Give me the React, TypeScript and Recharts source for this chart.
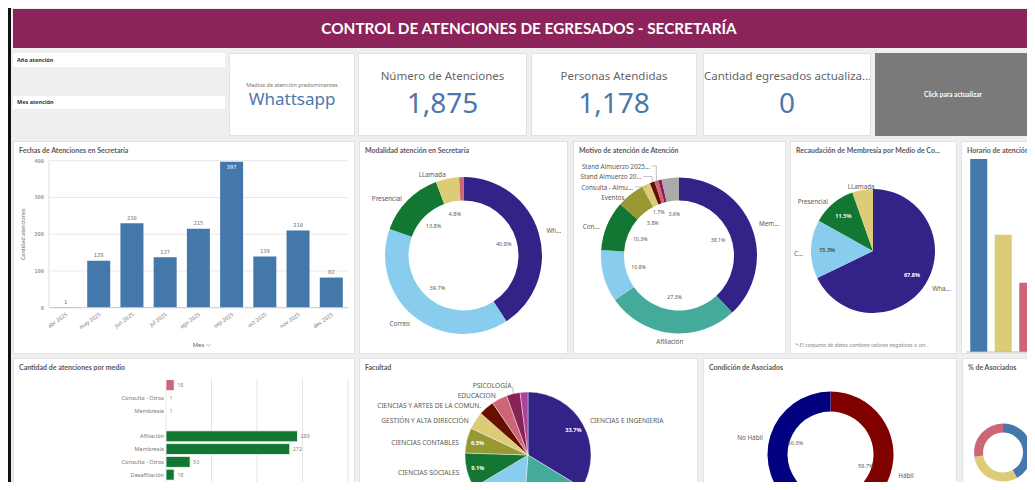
import React from 'react';
import { BarChart, Bar, XAxis, YAxis, CartesianGrid, PieChart, Pie, Cell, LabelList, Label, ReferenceLine } from 'recharts';

// Fechas de atenciones en secretaría
const meses = ['abr 2025', 'may 2025', 'jun 2025', 'jul 2025', 'ago 2025', 'sep 2025', 'oct 2025', 'nov 2025', 'dec 2025'];
const atencionesMes = [1, 128, 230, 137, 215, 397, 139, 210, 82];
const ticksAtenciones = [0, 100, 200, 300, 400];

// Modalidad atención
const modalidadNombres = ['Wh...', 'Correo', 'Presencial', 'LLamada', ''];
const modalidadPct = [40.8, 39.7, 13.8, 4.8, 0.9];
const modalidadColores = ['#332288', '#88ccee', '#117733', '#ddcc77', '#cc6677'];

// Motivo de atención
const motivoNombres = ['Mem...', 'Afiliación', '', 'Con...', 'Eventos', 'Consulta - Almu...', 'Stand Almuerzo 20...', 'Stand Almuerzo 2025...', '', ''];
const motivoPct = [38.1, 27.3, 10.8, 10.3, 5.8, 1.7, 1.0, 0.8, 0.7, 3.6];
const motivoColores = ['#332288', '#44aa99', '#88ccee', '#117733', '#999933', '#ddcc77', '#661100', '#cc6677', '#882255', '#aaaaaa'];

// Recaudación de membresía
const recaudNombres = ['Wha...', 'C...', 'Presencial', 'LLamada'];
const recaudPct = [67.8, 15.3, 11.5, 5.4];
const recaudColores = ['#332288', '#88ccee', '#117733', '#ddcc77'];

// Horario de atención
const horarios = ['Mañana', 'Tarde', 'Noche'];
const horarioValores = [954, 579, 342];
const horarioColores = ['#4477aa', '#ddcc77', '#cc6677'];

// Cantidad de atenciones por medio
const medioCategorias = ['', 'Consulta - Otros', 'Membresía', '', 'Afiliación', 'Membresía', 'Consulta - Otros', 'Desafiliación', 'Actualización de datos'];
const medioValores = [18, 1, 1, null, 289, 272, 53, 18, 4];
const medioGrupo = ['LLamada', 'LLamada', 'LLamada', '', 'Presencial', 'Presencial', 'Presencial', 'Presencial', 'Presencial'];
const ticksMedio = [0, 100, 200, 300, 400];

// Facultad
const facultadNombres = ['CIENCIAS E INGENIERIA', 'CIENCIAS DE LA SALUD', 'CIENCIAS ECONÓMICAS', 'CIENCIAS SOCIALES', 'CIENCIAS CONTABLES', 'GESTIÓN Y ALTA DIRECCIÓN', 'CIENCIAS Y ARTES DE LA COMUN.', 'EDUCACION', 'PSICOLOGÍA', ''];
const facultadPct = [33.7, 17.5, 15.2, 9.1, 6.5, 4.5, 4.0, 4.0, 3.5, 2.0];
const facultadColores = ['#332288', '#44aa99', '#88ccee', '#117733', '#999933', '#ddcc77', '#661100', '#cc6677', '#882255', '#aa4499'];

// Condición de asociados
const condicionNombres = ['Hábil', 'No Hábil'];
const condicionPct = [59.7, 40.3];
const condicionColores = ['#800000', '#000080'];

// % de asociados
const asociadosNombres = ['Activos', 'Nuevos', 'Retirados'];
const asociadosPct = [42.0, 30.7, 27.3];
const asociadosColores = ['#4477aa', '#ddcc77', '#cc6677'];

const fechasData = meses.map((m, i) => ({ mes: m, valor: atencionesMes[i] }));
const toPie = (names: string[], vals: number[]) => vals.map((v, i) => ({ name: names[i] || `s${i}`, value: v }));
const medioData = medioCategorias.map((c, i) => ({ fila: i, valor: medioValores[i], grupo: medioGrupo[i] }));
const horarioData = horarios.map((h, i) => ({ horario: h, valor: horarioValores[i] }));

const GRIS = '#595959';
const RAD = Math.PI / 180;
const NOMARGIN = { top: 0, right: 0, bottom: 0, left: 0 };

function sliceLabels(o: { names: string[]; pctR: number; gap: number; minPct: number; pctFill: string[]; bold?: boolean; stack?: number[]; leader?: number[]; size?: number; pctSize?: number; smallOut?: number }) {
  const size = o.size || 6.3;
  return (p: any) => {
    const { cx, cy, midAngle, outerRadius, index, value } = p;
    const c = Math.cos(-midAngle * RAD);
    const s = Math.sin(-midAngle * RAD);
    const out: React.ReactNode[] = [];
    if (value >= o.minPct) {
      // thin slices get their percentage pushed a little outward so it does not collide with neighbours
      const pr = o.pctR + (o.smallOut && value < 3 ? o.smallOut : 0);
      out.push(
        <text key="p" x={cx + pr * c} y={cy + pr * s} textAnchor="middle" dominantBaseline="central"
          fontSize={o.pctSize || 5.6} fontWeight={o.bold ? 700 : 400} fill={o.pctFill[index] || GRIS}>{value.toFixed(1)}%</text>
      );
    }
    const name = o.names[index];
    if (name) {
      const st = o.stack ? o.stack.indexOf(index) : -1;
      if (st >= 0) {
        const k = o.stack!.length - 1 - st;
        const px = cx + outerRadius * c;
        const py = cy + outerRadius * s;
        const ty = cy - outerRadius - 11.5 + 10.5 * k;
        const tx = cx - 29 - 8.5 * k;
        if (px - tx > 6) {
          out.push(<path key="l" d={`M${tx + 2},${ty} H${px} V${py}`} stroke="#999" strokeWidth={0.6} fill="none" />);
        }
        out.push(<text key="n" x={tx} y={ty} textAnchor="end" dominantBaseline="central" fontSize={size} fill={GRIS}>{name}</text>);
      } else {
        const r = outerRadius + o.gap;
        const anchor = Math.abs(c) < 0.2 ? 'middle' : c > 0 ? 'start' : 'end';
        const isLeader = !!(o.leader && o.leader.includes(index));
        const dy = !isLeader && c < 0 && s < 0 ? 4 : 0;
        if (isLeader) {
          out.push(<line key="l" x1={cx + outerRadius * c} y1={cy + outerRadius * s} x2={cx + (r - 1) * c + 1} y2={cy + (r - 1) * s} stroke="#999" strokeWidth={0.6} />);
        }
        out.push(<text key="n" x={cx + r * c} y={cy + r * s + dy} textAnchor={anchor} dominantBaseline="central" fontSize={size} fill={GRIS}>{name}</text>);
      }
    }
    return <g>{out}</g>;
  };
}

function Panel({ x, y, w, h, title, children }: any) {
  return (
    <div style={{ position: 'absolute', left: x, top: y, width: w, height: h, background: '#fff', border: '1px solid #e2e2e2', boxSizing: 'border-box', overflow: 'hidden' }}>
      <div style={{ position: 'absolute', left: -1, top: -1 }}>{children}</div>
      {title && (
        <div style={{ position: 'absolute', left: 5, top: 4, fontSize: 7, fontWeight: 700, color: GRIS, whiteSpace: 'nowrap', fontFamily: 'Lato, sans-serif' }}>{title}</div>
      )}
    </div>
  );
}

function Kpi({ x, w, title, value, small }: any) {
  return (
    <div style={{ position: 'absolute', left: x, top: 53, width: w, height: 83, background: '#fff', border: '1px solid #e2e2e2', boxSizing: 'border-box', textAlign: 'center', color: '#4a78ad', whiteSpace: 'nowrap', overflow: 'hidden' }}>
      {small ? (
        <>
          <div style={{ position: 'absolute', left: 0, right: 0, top: 27, fontSize: 5.5, color: '#777' }}>{title}</div>
          <div style={{ position: 'absolute', left: 0, right: 0, top: 33, fontSize: 17 }}>{value}</div>
        </>
      ) : (
        <>
          <div style={{ position: 'absolute', left: 0, right: 0, top: 14, fontSize: 11.5, color: '#666' }}>{title}</div>
          <div style={{ position: 'absolute', left: 0, right: 0, top: 28, fontSize: 28, lineHeight: '40px' }}>{value}</div>
        </>
      )}
    </div>
  );
}

const MesTick = ({ x, y, payload }: any) => (
  <text x={x + 1} y={y - 2} transform={`rotate(-35 ${x + 1} ${y - 2})`} textAnchor="end" dominantBaseline="central" fontSize={5.4} fill="#777">{payload.value}</text>
);

const fechasLabel = (p: any) => {
  const { x, y, width, value } = p;
  const inside = value / ticksAtenciones[ticksAtenciones.length - 1] > 0.9;
  return (
    <text x={x + width / 2} y={inside ? y + 5.5 : y - 5.5} textAnchor="middle" dominantBaseline="central" fontSize={5.4}
      fontFamily="'DejaVu Sans Mono', monospace" fill={inside ? '#fff' : '#777'}>{value}</text>
  );
};

const medioLabel = (p: any) => {
  const { x, y, width, height, value } = p;
  if (value == null) return null;
  return <text x={x + width + 3} y={y + height / 2} dominantBaseline="central" fontSize={5.4} fill="#888">{value}</text>;
};

export default function App() {
  return (
    <div style={{ position: 'relative', width: 1035, height: 490, margin: -8, overflow: 'hidden', background: '#fff', fontFamily: '"Noto Sans", sans-serif' }}>
      <div style={{ position: 'absolute', left: 8, top: 5, width: 1040, height: 500, borderLeft: '3px solid #111', borderTop: '2px solid #111', background: '#efefef' }} />

      <div style={{ position: 'absolute', left: 13, top: 9, width: 1030, height: 39, background: '#8c235a', color: '#fff', fontFamily: 'Lato, sans-serif', fontWeight: 700, fontSize: 15.3, lineHeight: '39px' }}>
        <div style={{ position: 'absolute', left: 0, width: 1032, textAlign: 'center' }}>CONTROL DE ATENCIONES DE EGRESADOS - SECRETARÍA</div>
      </div>

      <div style={{ position: 'absolute', left: 13, top: 53, width: 212, height: 14, background: '#fff', fontSize: 5.5, fontWeight: 700, color: '#333', lineHeight: '14px', paddingLeft: 4, boxSizing: 'border-box' }}>Año atención</div>
      <div style={{ position: 'absolute', left: 13, top: 96, width: 212, height: 13, background: '#fff', fontSize: 5.5, fontWeight: 700, color: '#333', lineHeight: '13px', paddingLeft: 4, boxSizing: 'border-box' }}>Mes atención</div>

      <Kpi x={229} w={126} title="Medios de atención predominantes" value="Whattsapp" small />
      <Kpi x={358} w={169} title="Número de Atenciones" value="1,875" />
      <Kpi x={531} w={166} title="Personas Atendidas" value="1,178" />
      <Kpi x={703} w={168} title="Cantidad egresados actualiza..." value="0" />
      <div style={{ position: 'absolute', left: 875, top: 53, width: 165, height: 83, background: '#7a7a7a', color: '#fff', fontSize: 6.5, fontWeight: 700, lineHeight: '83px', fontFamily: 'Lato, sans-serif' }}>
        <div style={{ width: 156, textAlign: 'center' }}>Click para actualizar</div>
      </div>

      <Panel x={13} y={141} w={342} h={213} title="Fechas de Atenciones en Secretaría">
        <BarChart width={342} height={213} data={fechasData} margin={{ top: 19.7, right: 7, left: 0, bottom: 6.3 }}>
          <CartesianGrid vertical={false} stroke="#e8e8e8" />
          <XAxis dataKey="mes" tick={<MesTick />} tickLine={false} axisLine={{ stroke: '#ccc' }} interval={0} height={40}>
            <Label content={({ viewBox }: any) => {
              const mx = viewBox.x + viewBox.width / 2;
              const my = viewBox.y + 37.5;
              return (
                <g>
                  <text x={mx} y={my} textAnchor="middle" dominantBaseline="central" fontSize={6} fill="#666">Mes</text>
                  <path d={`M${mx + 8},${my - 1} l2,2 l2,-2`} stroke="#888" strokeWidth={0.7} fill="none" />
                </g>
              );
            }} />
          </XAxis>
          <YAxis width={36} domain={[0, 400]} ticks={ticksAtenciones} tickLine={false} tickSize={0} tickMargin={5} axisLine={{ stroke: '#ddd' }}
            tick={{ fontSize: 5.4, fill: '#777', fontFamily: "'DejaVu Sans Mono', monospace" }}>
            <Label value="Cantidad atenciones" angle={-90} position="insideLeft" offset={10} style={{ fontSize: 5.4, fill: '#666', textAnchor: 'middle' }} />
          </YAxis>
          <Bar dataKey="valor" fill="#4477aa" barSize={23} isAnimationActive={false}>
            <LabelList dataKey="valor" content={fechasLabel} />
          </Bar>
        </BarChart>
      </Panel>

      <Panel x={359} y={141} w={209} h={213} title="Modalidad atención en Secretaría">
        <PieChart width={209} height={213} margin={NOMARGIN}>
          <Pie data={toPie(modalidadNombres, modalidadPct)} dataKey="value" cx={104.5} cy={114.5} innerRadius={55} outerRadius={78.5}
            startAngle={90} endAngle={-270} stroke="none" isAnimationActive={false} labelLine={false}
            label={sliceLabels({ names: modalidadNombres, pctR: 42, gap: 8, minPct: 1.5, pctFill: [] })}>
            {modalidadColores.map((c, i) => <Cell key={i} fill={c} />)}
          </Pie>
        </PieChart>
      </Panel>

      <Panel x={573} y={141} w={213} h={213} title="Motivo de atención de Atención">
        <PieChart width={213} height={213} margin={NOMARGIN}>
          <Pie data={toPie(motivoNombres, motivoPct)} dataKey="value" cx={106} cy={114.5} innerRadius={55} outerRadius={78}
            startAngle={90} endAngle={-270} stroke="none" isAnimationActive={false} labelLine={false}
            label={sliceLabels({ names: motivoNombres, pctR: 42, gap: 8, minPct: 1.5, pctFill: [], pctSize: 5.2, smallOut: 6, stack: [4, 5, 6, 7] })}>
            {motivoColores.map((c, i) => <Cell key={i} fill={c} />)}
          </Pie>
        </PieChart>
      </Panel>

      <Panel x={790} y={141} w={167} h={213} title="Recaudación de Membresía por Medio de Co...">
        <PieChart width={167} height={213} margin={NOMARGIN}>
          <Pie data={toPie(recaudNombres, recaudPct)} dataKey="value" cx={83} cy={110} innerRadius={0} outerRadius={62}
            startAngle={90} endAngle={-270} stroke="none" isAnimationActive={false} labelLine={false}
            label={sliceLabels({ names: recaudNombres, pctR: 46, gap: 8, minPct: 6, pctFill: ['#fff', '#555', '#eee'], bold: true })}>
            {recaudColores.map((c, i) => <Cell key={i} fill={c} />)}
          </Pie>
        </PieChart>
        <div style={{ position: 'absolute', left: 5, top: 200, fontSize: 5.4, fontStyle: 'italic', color: '#888', whiteSpace: 'nowrap' }}>* El conjunto de datos contiene valores negativos o cer...</div>
      </Panel>

      <Panel x={961} y={141} w={80} h={213} title="Horario de atención">
        <BarChart width={100} height={213} data={horarioData} margin={{ top: 18, right: 21.25, left: 5.25, bottom: 2 }} barCategoryGap={7.5}>
          <XAxis dataKey="horario" hide />
          <YAxis hide domain={[0, 'dataMax']} />
          <ReferenceLine y={0} stroke="#bbb" />
          <Bar dataKey="valor" barSize={17} isAnimationActive={false}>
            {horarioColores.map((c, i) => <Cell key={i} fill={c} />)}
          </Bar>
        </BarChart>
      </Panel>

      <Panel x={13} y={358} w={342} h={140} title="Cantidad de atenciones por medio">
        <BarChart width={342} height={146} data={medioData} layout="vertical" margin={{ top: 20.6, right: 7, left: 0, bottom: 10.2 }}>
          <CartesianGrid horizontal={false} stroke="#e4e4e4" />
          <XAxis type="number" domain={[0, 400]} ticks={ticksMedio} hide />
          <YAxis type="category" dataKey="fila" width={153} tickLine={false} tickSize={0} tickMargin={2} axisLine={false} interval={0}
            tickFormatter={(v: any) => medioCategorias[v]} tick={{ fontSize: 5.6, fill: '#777' }} />
          <Bar dataKey="valor" barSize={11} stroke="#fff" strokeWidth={0.8} isAnimationActive={false}>
            {medioGrupo.map((g, i) => <Cell key={i} fill={g === 'LLamada' ? '#cc6677' : '#117733'} />)}
            <LabelList dataKey="valor" content={medioLabel} />
          </Bar>
        </BarChart>
      </Panel>

      <Panel x={359} y={358} w={339} h={140} title="Facultad">
        <PieChart width={339} height={140} margin={NOMARGIN}>
          <Pie data={toPie(facultadNombres, facultadPct)} dataKey="value" cx={169} cy={97} innerRadius={0} outerRadius={63}
            startAngle={90} endAngle={-270} stroke="#fff" strokeWidth={0.4} isAnimationActive={false} labelLine={false}
            label={sliceLabels({ names: facultadNombres, pctR: 52, gap: 8, minPct: 5, size: 6.6, pctFill: ['#fff', '#fff', '#555', '#fff', '#fff'], bold: true, leader: [8] })}>
            {facultadColores.map((c, i) => <Cell key={i} fill={c} />)}
          </Pie>
        </PieChart>
      </Panel>

      <Panel x={703} y={358} w={254} h={140} title="Condición de Asociados">
        <PieChart width={254} height={140} margin={NOMARGIN}>
          <Pie data={toPie(condicionNombres, condicionPct)} dataKey="value" cx={127.5} cy={96.5} innerRadius={43} outerRadius={63}
            startAngle={90} endAngle={-270} stroke="none" isAnimationActive={false} labelLine={false}
            label={sliceLabels({ names: condicionNombres, pctR: 37, gap: 8, minPct: 1, pctFill: [] })}>
            {condicionColores.map((c, i) => <Cell key={i} fill={c} />)}
          </Pie>
        </PieChart>
      </Panel>

      <Panel x={962} y={358} w={80} h={140} title="% de Asociados">
        <PieChart width={80} height={140} margin={NOMARGIN}>
          <Pie data={toPie(asociadosNombres, asociadosPct)} dataKey="value" cx={41} cy={94.5} innerRadius={20} outerRadius={29}
            startAngle={90} endAngle={-270} stroke="none" isAnimationActive={false} labelLine={false}>
            {asociadosColores.map((c, i) => <Cell key={i} fill={c} />)}
          </Pie>
        </PieChart>
      </Panel>
    </div>
  );
}
